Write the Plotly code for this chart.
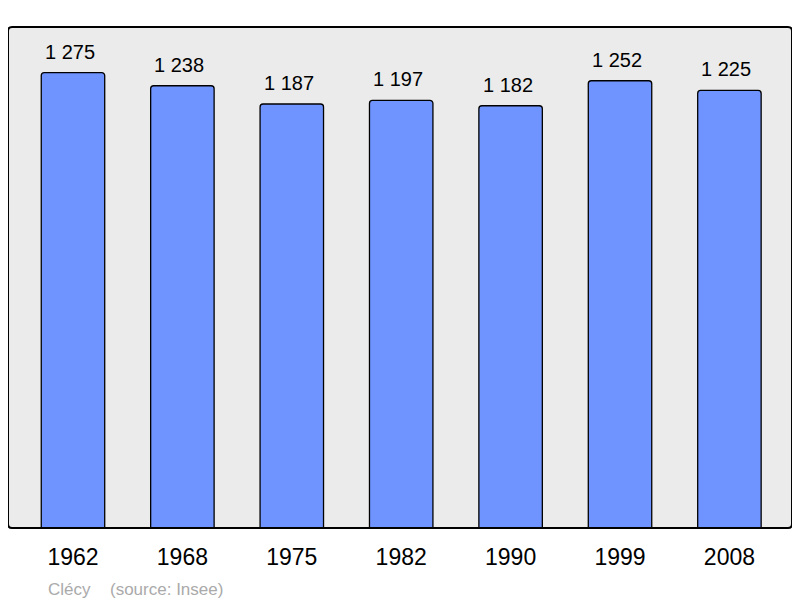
import plotly.graph_objects as go

years = ["1962", "1968", "1975", "1982", "1990", "1999", "2008"]
population = [1275, 1238, 1187, 1197, 1182, 1252, 1225]
labels = ["1 275", "1 238", "1 187", "1 197", "1 182", "1 252", "1 225"]

FONT = "Liberation Sans, Arial, sans-serif"

fig = go.Figure()
fig.add_trace(go.Bar(
    x=years, y=population,
    marker=dict(color="#7094FF", line=dict(color="#000000", width=1.3), cornerradius=3),
    width=0.58,
    hoverinfo="skip",
))

for i, (v, t) in enumerate(zip(population, labels)):
    fig.add_annotation(x=i, y=v, xref="x", yref="y", text=t, showarrow=False, yanchor="bottom",
                       yshift=8, xshift=-3, font=dict(family=FONT, size=20, color="#000000"))

fig.add_annotation(xref="paper", yref="paper", x=0.049, y=-0.100, xanchor="left", yanchor="top",
                   text="Clécy", showarrow=False, font=dict(family=FONT, size=17, color="#AAAAAA"))
fig.add_annotation(xref="paper", yref="paper", x=0.128, y=-0.100, xanchor="left", yanchor="top",
                   text="(source: Insee)", showarrow=False, font=dict(family=FONT, size=17, color="#AAAAAA"))

# rounded plot border
rx, ry = 4 / 784, 4 / 501
path = (f"M {rx},0 L {1-rx},0 Q 1,0 1,{ry} L 1,{1-ry} Q 1,1 {1-rx},1 "
        f"L {rx},1 Q 0,1 0,{1-ry} L 0,{ry} Q 0,0 {rx},0 Z")
fig.add_shape(type="path", xref="paper", yref="paper", path=path,
              line=dict(color="#000000", width=2), layer="above")

fig.update_layout(
    width=800, height=598,
    margin=dict(l=0, r=16, t=19, b=78),
    paper_bgcolor="#FFFFFF",
    plot_bgcolor="#EBEBEB",
    showlegend=False,
    xaxis=dict(type="category", range=[-0.594, 6.572], showgrid=False, zeroline=False,
               showline=False, ticks="outside", ticklen=8, tickcolor="rgba(0,0,0,0)",
               tickfont=dict(family=FONT, size=23, color="#000000")),
    yaxis=dict(range=[0, 1402.5], showgrid=False, zeroline=False, showline=False,
               showticklabels=False, ticks=""),
)

fig.write_html("out.html")
